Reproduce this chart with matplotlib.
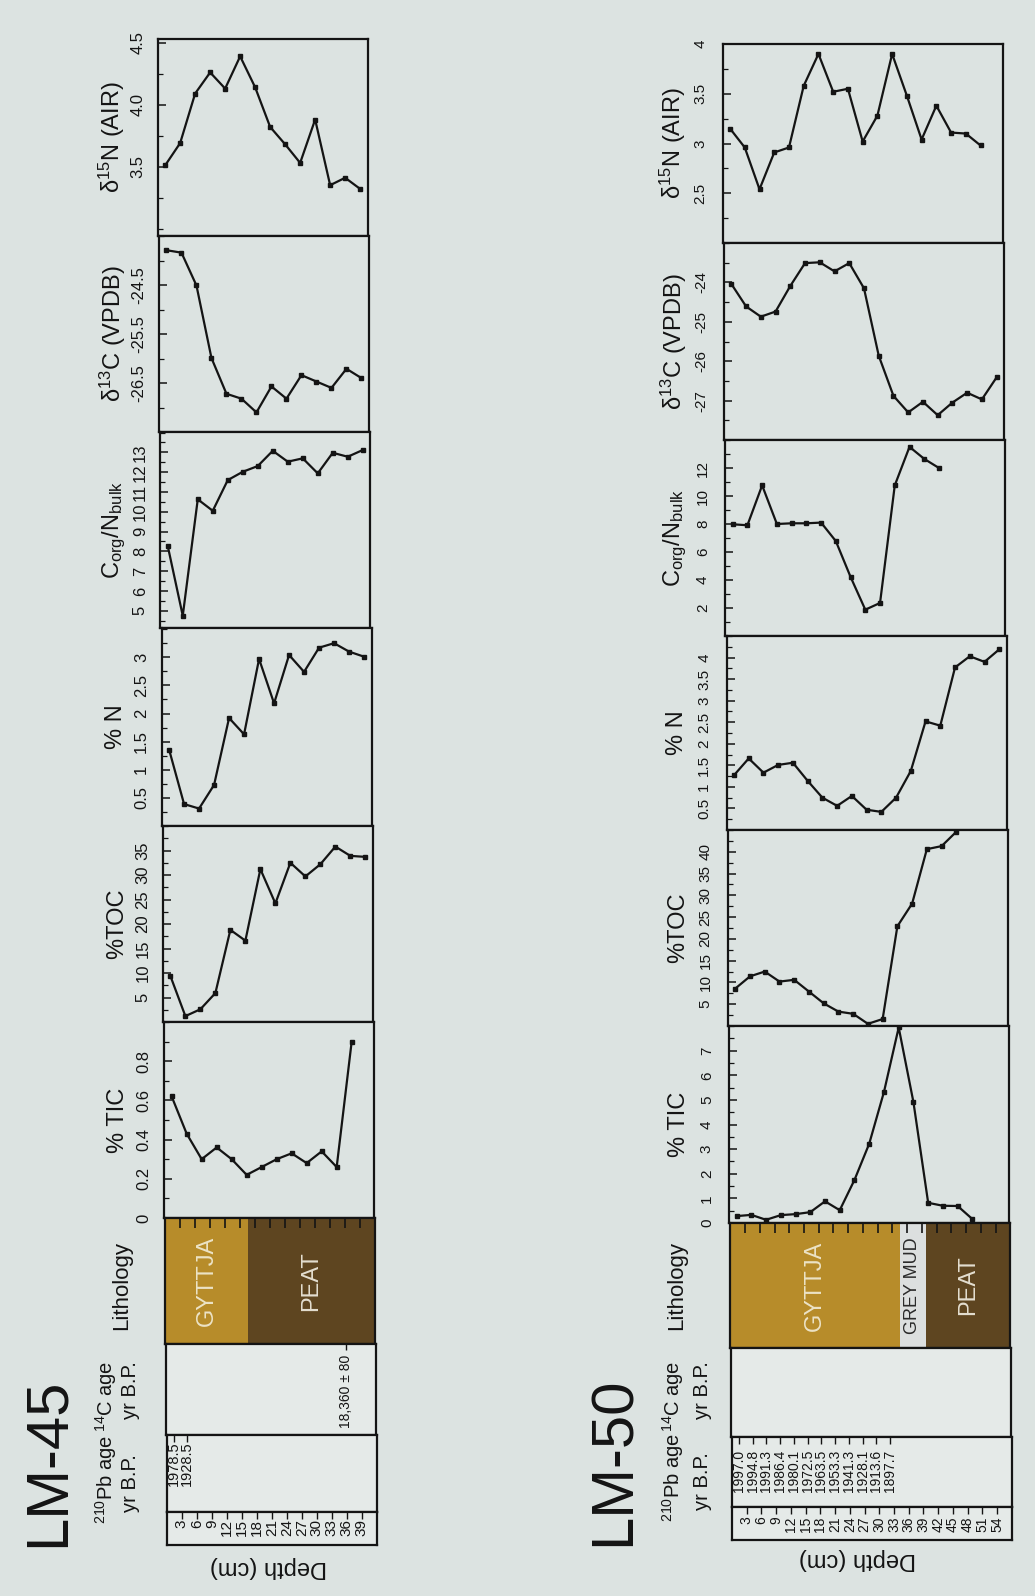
import matplotlib
matplotlib.use("Agg")
import matplotlib.pyplot as plt
from matplotlib.ticker import FixedLocator, MultipleLocator
import matplotlib.transforms as mtransforms

plt.rcParams['font.family'] = ['Liberation Sans', 'DejaVu Sans']
plt.rcParams['mathtext.fontset'] = 'custom'
plt.rcParams['mathtext.rm'] = 'Liberation Sans'
plt.rcParams['mathtext.it'] = 'Liberation Sans:italic'
plt.rcParams['mathtext.bf'] = 'Liberation Sans:bold'

# ------------------------------------------------------------------ LM-45 data
lm45_depth = [1.5, 4.5, 7.5, 10.5, 13.5, 16.5, 19.5, 22.5, 25.5, 28.5, 31.5, 34.5, 37.5, 40.5]
lm45_tic_depth = [1.5, 4.5, 7.5, 10.5, 13.5, 16.5, 19.5, 22.5, 25.5, 28.5, 31.5, 34.5, 37.5]
lm45_d15n = [3.51, 3.69, 4.09, 4.26, 4.13, 4.39, 4.14, 3.82, 3.68, 3.53, 3.88, 3.35, 3.41, 3.32]
lm45_d13c = [-23.79, -23.84, -24.51, -25.99, -26.72, -26.82, -27.10, -26.57, -26.82, -26.34,
             -26.47, -26.60, -26.21, -26.40]
lm45_cn = [8.27, 4.75, 10.63, 10.05, 11.60, 12.02, 12.31, 13.08, 12.53, 12.70, 11.94, 12.98, 12.78, 13.12]
lm45_pn = [1.36, 0.39, 0.31, 0.73, 1.92, 1.63, 2.97, 2.18, 3.04, 2.74, 3.17, 3.25, 3.10, 3.01]
lm45_toc = [9.4, 1.2, 2.6, 5.9, 18.8, 16.6, 31.2, 24.2, 32.5, 29.7, 32.2, 35.8, 33.9, 33.7]
lm45_tic = [0.62, 0.43, 0.30, 0.36, 0.30, 0.22, 0.26, 0.30, 0.33, 0.28, 0.34, 0.26, 0.90]

lm45_d15n_ticks = [3.5, 4.0, 4.5]
lm45_d15n_labels = ['3.5', '4.0', '4.5']
lm45_d13c_ticks = [-24.5, -25.5, -26.5]
lm45_d13c_labels = ['-24.5', '-25.5', '-26.5']
lm45_cn_ticks = [5, 6, 7, 8, 9, 10, 11, 12, 13]
lm45_cn_labels = ['5', '6', '7', '8', '9', '10', '11', '12', '13']
lm45_pn_ticks = [0.5, 1.0, 1.5, 2.0, 2.5, 3.0]
lm45_pn_labels = ['0.5', '1', '1.5', '2', '2.5', '3']
lm45_toc_ticks = [5, 10, 15, 20, 25, 30, 35]
lm45_toc_labels = ['5', '10', '15', '20', '25', '30', '35']
lm45_tic_ticks = [0, 0.2, 0.4, 0.6, 0.8]
lm45_tic_labels = ['0', '0.2', '0.4', '0.6', '0.8']

lm45_lith_names = ['GYTTJA', 'PEAT']
lm45_lith_top = [0, 16.5]
lm45_lith_bottom = [16.5, 42]
lm45_c14_depth = [36]
lm45_c14_labels = ['18,360 ± 80']
lm45_pb_depth = [1.5, 4.0]
lm45_pb_labels = ['1978.5', '1928.5']
lm45_depth_ticks = [3, 6, 9, 12, 15, 18, 21, 24, 27, 30, 33, 36, 39]

# ------------------------------------------------------------------ LM-50 data
lm50_depth = [1.5, 4.5, 7.5, 10.5, 13.5, 16.5, 19.5, 22.5, 25.5, 28.5, 31.5, 34.5, 37.5, 40.5,
              43.5, 46.5, 49.5, 52.5, 55.5]
lm50_d15n = [3.15, 2.96, 2.54, 2.91, 2.96, 3.58, 3.90, 3.52, 3.55, 3.02, 3.28, 3.90, 3.48, 3.04,
             3.38, 3.11, 3.10, 2.98]
lm50_d13c = [-24.04, -24.61, -24.87, -24.74, -24.09, -23.51, -23.49, -23.72, -23.51, -24.15,
             -25.86, -26.88, -27.30, -27.03, -27.37, -27.05, -26.80, -26.97, -26.41]
lm50_cn = [7.98, 7.91, 10.76, 8.00, 8.05, 8.05, 8.10, 6.78, 4.22, 1.88, 2.36, 10.76, 13.51, 12.65, 12.00]
lm50_pn = [1.27, 1.66, 1.33, 1.51, 1.56, 1.14, 0.75, 0.56, 0.79, 0.47, 0.42, 0.75, 1.37, 2.52,
           2.42, 3.77, 4.03, 3.90, 4.19]
lm50_toc = [8.6, 11.4, 12.5, 10.2, 10.6, 7.9, 5.2, 3.3, 2.8, 0.5, 1.6, 22.9, 28.1, 40.6, 41.3, 44.6]
lm50_tic = [0.28, 0.33, 0.13, 0.32, 0.36, 0.44, 0.88, 0.52, 1.75, 3.22, 5.32, 7.94, 4.91, 0.82,
            0.70, 0.69, 0.16]

lm50_d15n_ticks = [2.5, 3.0, 3.5, 4.0]
lm50_d15n_labels = ['2.5', '3', '3.5', '4']
lm50_d13c_ticks = [-24, -25, -26, -27]
lm50_d13c_labels = ['-24', '-25', '-26', '-27']
lm50_cn_ticks = [2, 4, 6, 8, 10, 12]
lm50_cn_labels = ['2', '4', '6', '8', '10', '12']
lm50_pn_ticks = [0.5, 1.0, 1.5, 2.0, 2.5, 3.0, 3.5, 4.0]
lm50_pn_labels = ['0.5', '1', '1.5', '2', '2.5', '3', '3.5', '4']
lm50_toc_ticks = [5, 10, 15, 20, 25, 30, 35, 40]
lm50_toc_labels = ['5', '10', '15', '20', '25', '30', '35', '40']
lm50_tic_ticks = [0, 1, 2, 3, 4, 5, 6, 7]
lm50_tic_labels = ['0', '1', '2', '3', '4', '5', '6', '7']

lm50_lith_names = ['GYTTJA', 'GREY MUD', 'PEAT']
lm50_lith_top = [0, 34.5, 39.8]
lm50_lith_bottom = [34.5, 39.8, 57]
lm50_pb_depth = [1.5, 4.3, 7.1, 9.9, 12.7, 15.5, 18.3, 21.1, 23.9, 26.7, 29.5, 32.3]
lm50_pb_labels = ['1997.0', '1994.8', '1991.3', '1986.4', '1980.1', '1972.5', '1963.5',
                  '1953.3', '1941.3', '1928.1', '1913.6', '1897.7']
lm50_depth_ticks = [3, 6, 9, 12, 15, 18, 21, 24, 27, 30, 33, 36, 39, 42, 45, 48, 51, 54]

ylabels = ['δ$^{15}$N (AIR)', 'δ$^{13}$C (VPDB)', r'C$_{\rm org}$/N$_{\rm bulk}$',
           '% N', '%TOC', '% TIC']

# ------------------------------------------------------------------ style
W, H = 1035, 1596
BG = '#dce3e1'
BOX = '#e5eae8'
INK = '#141414'
LITH_COL = {'GYTTJA': '#b78c2a', 'PEAT': '#5e4520', 'GREY MUD': '#dcdfdf'}
LITH_TXT = {'GYTTJA': '#ece3c6', 'PEAT': '#e4ded0', 'GREY MUD': '#2a2a2a'}
LITH_FS = {'GYTTJA': 17, 'PEAT': 17, 'GREY MUD': 13}

fig = plt.figure(figsize=(W / 100, H / 100), dpi=100)
fig.patch.set_facecolor(BG)


def px_axes(x0, y0, x1, y1, fc):
    ax = fig.add_axes([x0 / W, 1 - y1 / H, (x1 - x0) / W, (y1 - y0) / H])
    ax.set_facecolor(fc)
    for s in ax.spines.values():
        s.set_linewidth(1.6)
        s.set_color(INK)
    return ax


def ftext(x, y, s, **kw):
    kw.setdefault('color', INK)
    fig.text(x / W, 1 - y / H, s, **kw)


def draw_core(cfg):
    edges = cfg['edges']

    def left(y):
        return cfg['lt'] + (cfg['lb'] - cfg['lt']) * (y - edges[0]) / (edges[-1] - edges[0])

    # ---- proxy panels
    for i, (d, v, ylim, tks, tls, minor) in enumerate(cfg['panels']):
        y0, y1 = edges[i], edges[i + 1]
        x0 = left((y0 + y1) / 2)
        ax = px_axes(x0, y0, x0 + cfg['w'], y1, BG)
        ax.plot(d, v, color=INK, lw=1.6, marker='s', ms=3.4, mfc=INK, mec=INK)
        ax.set_xlim(0, cfg['xmax'])
        ax.set_ylim(*ylim)
        ax.yaxis.set_major_locator(FixedLocator(tks))
        ax.set_yticklabels(tls)
        ax.yaxis.set_minor_locator(MultipleLocator(minor))
        ax.tick_params(axis='y', which='major', direction='in', length=6, width=1.1,
                       pad=cfg['pad'], labelsize=cfg['tfs'], labelrotation=90, colors=INK)
        ax.tick_params(axis='y', which='minor', direction='in', length=3.5, width=0.9, colors=INK)
        for lab in ax.get_yticklabels():
            lab.set_va('center')
        ax.tick_params(axis='x', which='both', bottom=False, top=False,
                       labelbottom=False, labeltop=False)
        ftext(x0 - cfg['lab_off'], (y0 + y1) / 2, ylabels[i], rotation=90,
              ha='center', va='center', fontsize=17)

    # ---- lithology
    y0, y1 = edges[6], edges[7]
    x0 = left((y0 + y1) / 2)
    ax = px_axes(x0, y0, x0 + cfg['w'], y1, BG)
    ax.set_xlim(0, cfg['xmax'])
    ax.set_ylim(0, 1)
    for name, t, b in zip(cfg['lith_names'], cfg['lith_top'], cfg['lith_bottom']):
        ax.axvspan(t, b, color=LITH_COL[name], lw=0)
        ax.text((t + b) / 2, 0.5, name, rotation=90, ha='center', va='center',
                fontsize=LITH_FS[name], color=LITH_TXT[name])
    ax.set_yticks([])
    ax.set_xticks(cfg['depth_ticks'])
    ax.tick_params(axis='x', direction='in', top=True, bottom=False, labelbottom=False,
                   length=7, width=1.2, colors=INK)
    ax.set_axisbelow(False)

    # ---- 14C box
    y0, y1 = edges[7], edges[8]
    x0 = left((y0 + y1) / 2)
    ax = px_axes(x0, y0, x0 + cfg['w'], y1, BOX)
    ax.set_xlim(0, cfg['xmax'])
    ax.set_ylim(0, 1)
    ax.set_yticks([])
    ax.set_xticks(cfg['c14_depth'])
    ax.tick_params(axis='x', direction='in', top=True, bottom=False, labelbottom=False,
                   length=4, width=1, colors=INK)
    tr = mtransforms.blended_transform_factory(ax.transData, ax.transAxes)
    for d, s in zip(cfg['c14_depth'], cfg['c14_labels']):
        ax.text(d, cfg['c14_y'], s, rotation=90, ha='center', va='top', fontsize=10,
                transform=tr, color=INK)

    # ---- 210Pb box
    y0, y1 = edges[8], edges[9]
    x0 = left((y0 + y1) / 2)
    ax = px_axes(x0, y0, x0 + cfg['w'], y1, BOX)
    ax.set_xlim(0, cfg['xmax'])
    ax.set_ylim(0, 1)
    ax.set_yticks([])
    ax.set_xticks(cfg['pb_depth'])
    ax.tick_params(axis='x', direction='in', top=True, bottom=False, labelbottom=False,
                   length=5, width=1, colors=INK)
    tr = mtransforms.blended_transform_factory(ax.transData, ax.transAxes)
    for d, s in zip(cfg['pb_depth'], cfg['pb_labels']):
        ax.text(d, cfg['pb_y'], s, rotation=90, ha='center', va='top', fontsize=cfg['pbfs'],
                transform=tr, color=INK)

    # ---- depth box
    y0, y1 = edges[9], edges[10]
    x0 = left((y0 + y1) / 2)
    ax = px_axes(x0, y0, x0 + cfg['w'], y1, BOX)
    ax.set_xlim(0, cfg['xmax'])
    ax.set_ylim(0, 1)
    ax.set_yticks([])
    ax.set_xticks(cfg['depth_ticks'])
    ax.tick_params(axis='x', direction='in', top=True, bottom=False, labelbottom=False,
                   length=5, width=1, colors=INK)
    tr = mtransforms.blended_transform_factory(ax.transData, ax.transAxes)
    for d in cfg['depth_ticks']:
        ax.text(d, cfg['dep_y'], str(d), rotation=90, ha='center', va='top',
                fontsize=cfg['dfs'], transform=tr, color=INK)

    # ---- headers / titles
    tx, ty = cfg['title_xy']
    ftext(tx, ty, cfg['title'], rotation=90, ha='center', va='center', fontsize=43)
    hx1, hx2, lx = cfg['head_x']
    ftext(lx, cfg['lith_head_y'], 'Lithology', rotation=90, ha='center', va='center', fontsize=16)
    ftext(hx1, cfg['pb_head_y'], '$^{210}$Pb age', rotation=90, ha='center', va='center',
          fontsize=14.5)
    ftext(hx1, cfg['c14_head_y'], '$^{14}$C age', rotation=90, ha='center', va='center',
          fontsize=14.5)
    ftext(hx2, cfg['pb_head_y'] + 4, 'yr B.P.', rotation=90, ha='center', va='center', fontsize=14.5)
    ftext(hx2, cfg['c14_head_y'] - 6, 'yr B.P.', rotation=90, ha='center', va='center', fontsize=14.5)
    dx, dy = cfg['depth_lab_xy']
    ftext(dx, dy, 'Depth (cm)', rotation=180, ha='center', va='center', fontsize=17)


core45 = dict(
    edges=[39, 236, 432, 628, 826, 1022, 1218, 1344, 1435, 1512, 1545],
    lt=157, lb=167, w=210, xmax=42, pad=9, tfs=12, lab_off=46,
    panels=[
        (lm45_depth, lm45_d15n, (2.94, 4.53), lm45_d15n_ticks, lm45_d15n_labels, 0.25),
        (lm45_depth, lm45_d13c, (-27.5, -23.5), lm45_d13c_ticks, lm45_d13c_labels, 0.5),
        (lm45_depth, lm45_cn, (4.13, 14.03), lm45_cn_ticks, lm45_cn_labels, 0.5),
        (lm45_depth, lm45_pn, (0, 3.52), lm45_pn_ticks, lm45_pn_labels, 0.25),
        (lm45_depth, lm45_toc, (0, 40), lm45_toc_ticks, lm45_toc_labels, 2.5),
        (lm45_tic_depth, lm45_tic, (0, 1.0), lm45_tic_ticks, lm45_tic_labels, 0.1),
    ],
    lith_names=lm45_lith_names, lith_top=lm45_lith_top, lith_bottom=lm45_lith_bottom,
    c14_depth=lm45_c14_depth, c14_labels=lm45_c14_labels, c14_y=0.88,
    pb_depth=lm45_pb_depth, pb_labels=lm45_pb_labels, pb_y=0.92, pbfs=10.5,
    depth_ticks=lm45_depth_ticks, dep_y=0.78, dfs=11,
    title='LM-45', title_xy=(48, 1462), head_x=(106, 131, 122),
    lith_head_y=1285, pb_head_y=1479, c14_head_y=1396, depth_lab_xy=(268, 1567),
)

core50 = dict(
    edges=[44, 243, 440, 636, 830, 1026, 1223, 1348, 1437, 1507, 1540],
    lt=722, lb=732, w=280, xmax=57, pad=11, tfs=11, lab_off=50,
    panels=[
        (lm50_depth[:18], lm50_d15n, (2.0, 4.0), lm50_d15n_ticks, lm50_d15n_labels, 0.25),
        (lm50_depth, lm50_d13c, (-28, -23), lm50_d13c_ticks, lm50_d13c_labels, 0.5),
        (lm50_depth[:15], lm50_cn, (0, 14), lm50_cn_ticks, lm50_cn_labels, 1),
        (lm50_depth, lm50_pn, (0, 4.5), lm50_pn_ticks, lm50_pn_labels, 0.25),
        (lm50_depth[:16], lm50_toc, (0, 45), lm50_toc_ticks, lm50_toc_labels, 2.5),
        (lm50_depth[:17], lm50_tic, (0, 8), lm50_tic_ticks, lm50_tic_labels, 0.5),
    ],
    lith_names=lm50_lith_names, lith_top=lm50_lith_top, lith_bottom=lm50_lith_bottom,
    c14_depth=[], c14_labels=[], c14_y=0.88,
    pb_depth=lm50_pb_depth, pb_labels=lm50_pb_labels, pb_y=0.82, pbfs=10,
    depth_ticks=lm50_depth_ticks, dep_y=0.72, dfs=10,
    title='LM-50', title_xy=(614, 1461), head_x=(673, 702, 677),
    lith_head_y=1285, pb_head_y=1477, c14_head_y=1396, depth_lab_xy=(857, 1559),
)

draw_core(core45)
draw_core(core50)

fig.savefig('out.png', dpi=100, facecolor=BG)
